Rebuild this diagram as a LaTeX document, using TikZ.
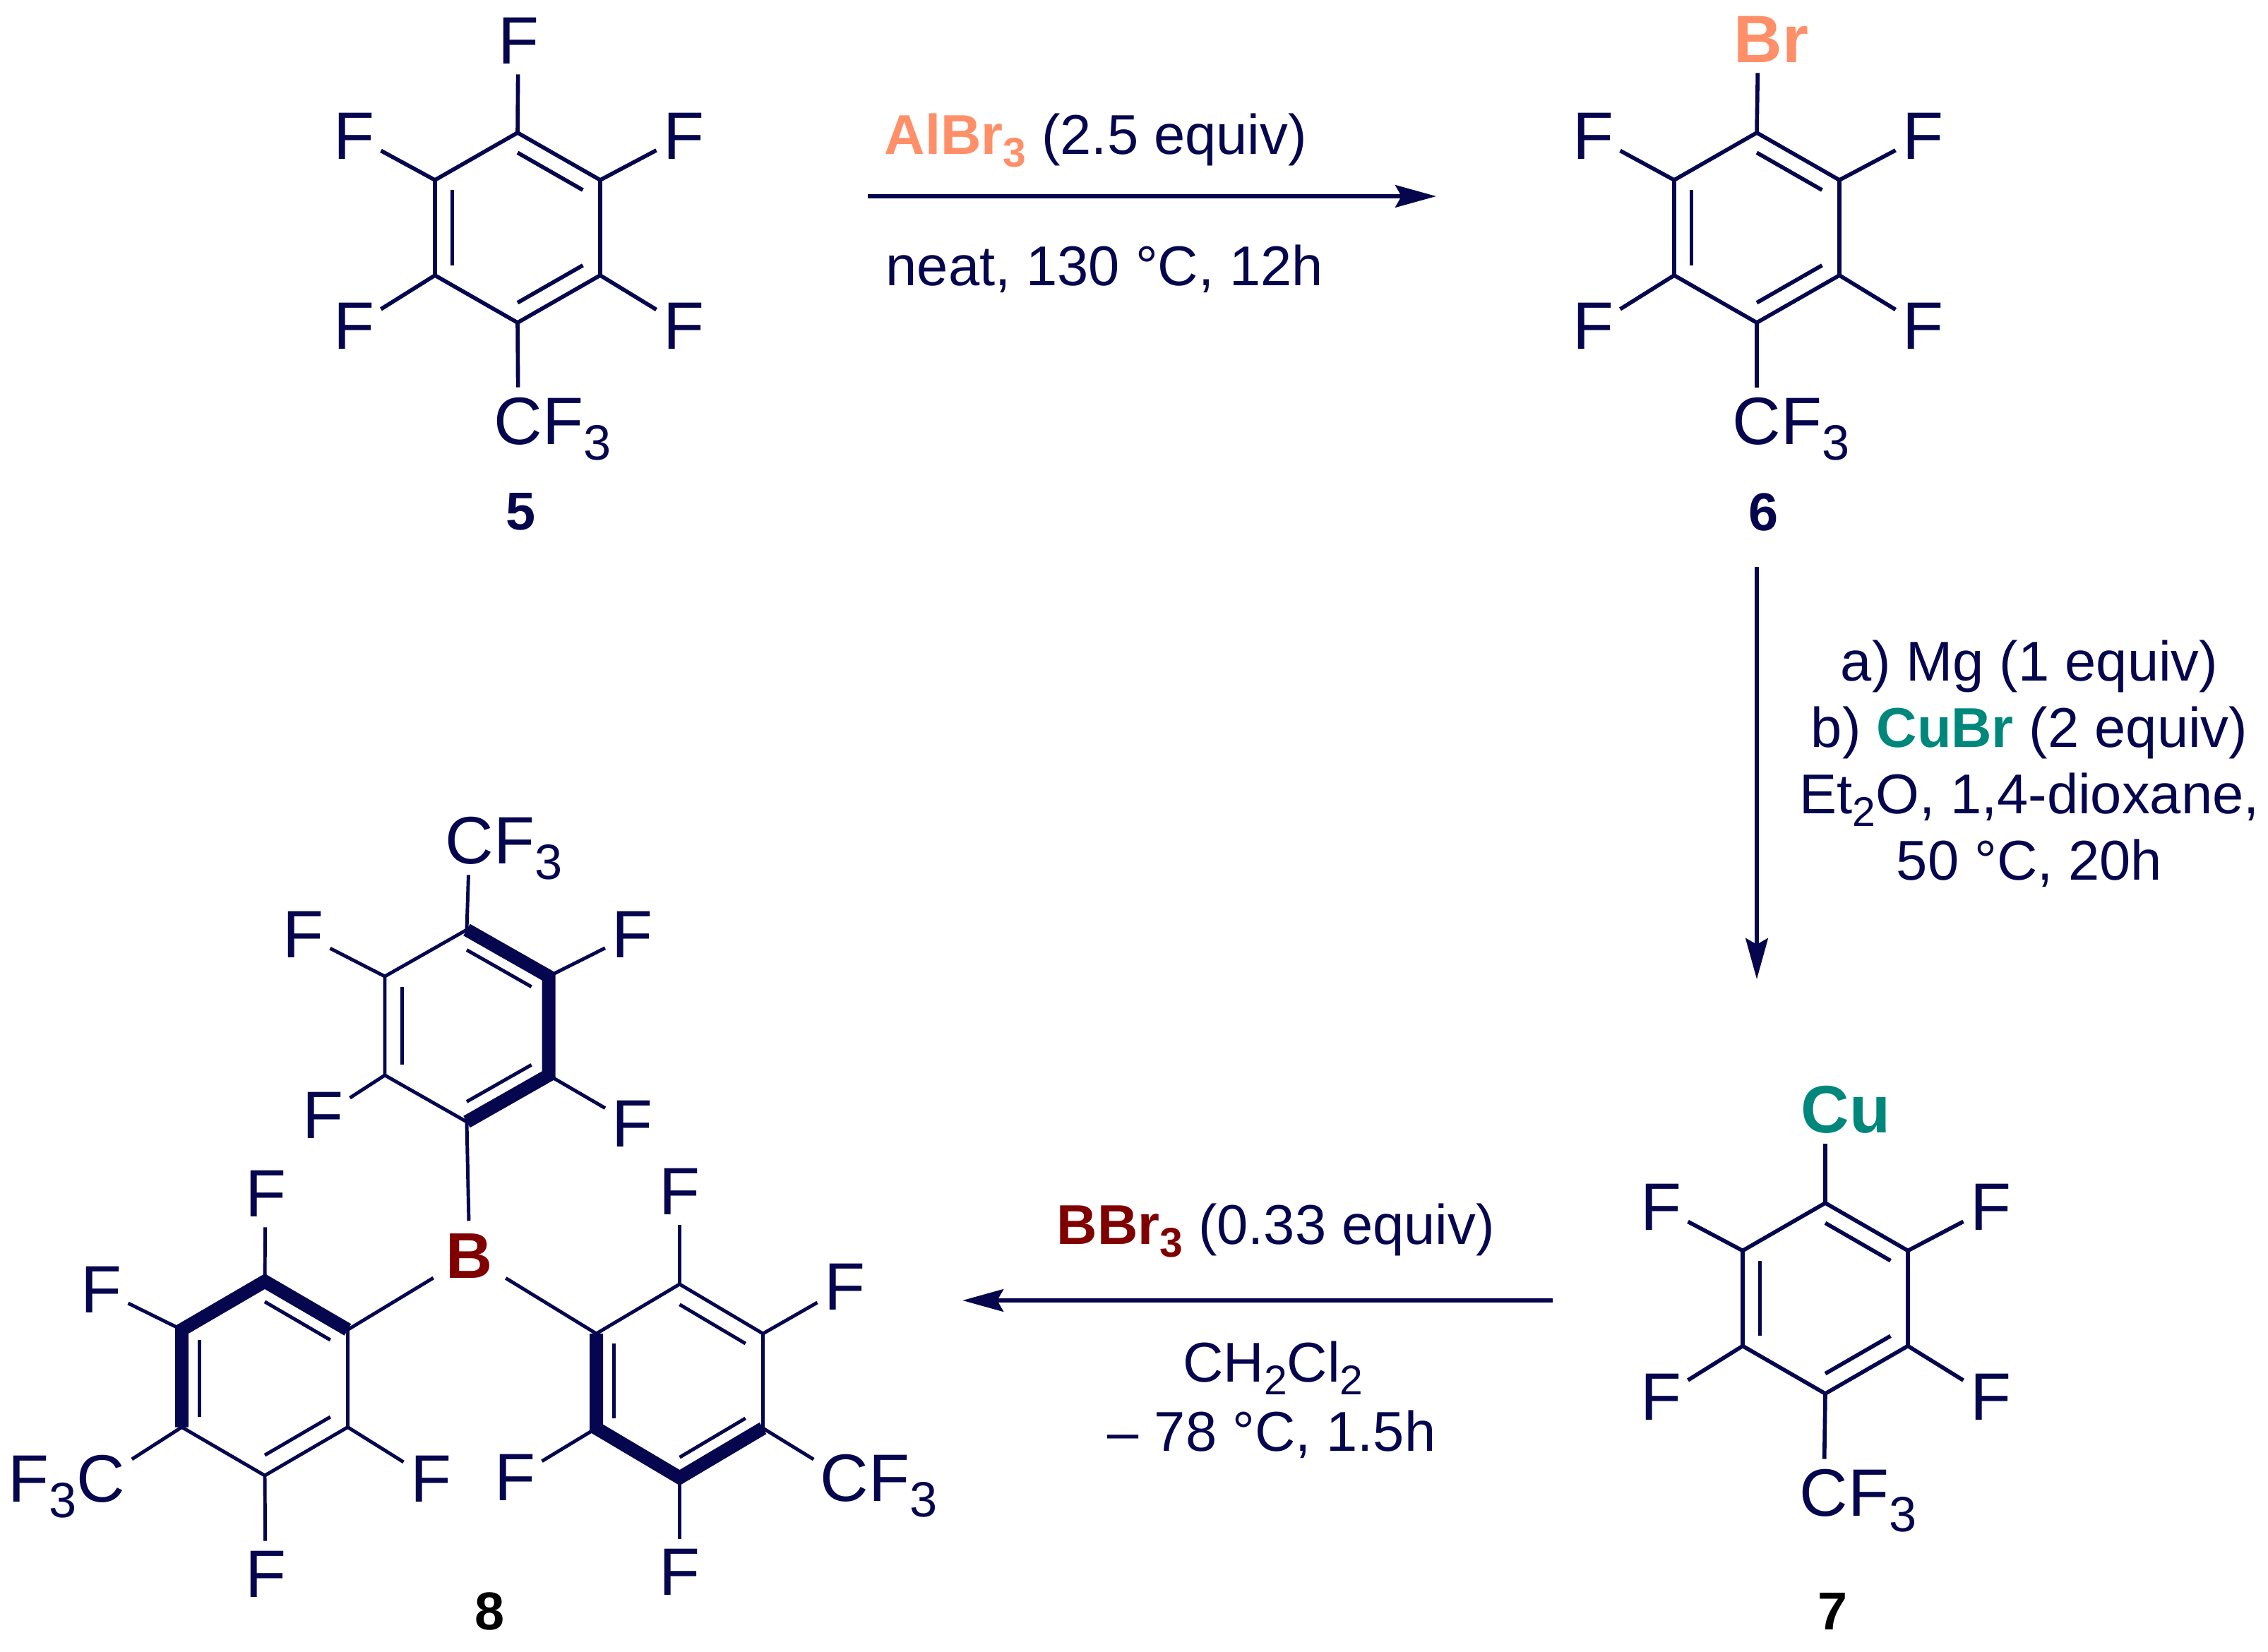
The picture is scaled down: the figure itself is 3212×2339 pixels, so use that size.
\documentclass[tikz,border=0pt]{standalone}
\usepackage{fontspec}
\usepackage{tikz}
\usetikzlibrary{arrows.meta,calc}
\setmainfont{Liberation Sans}
\definecolor{ink}{HTML}{06064E}
\definecolor{brcol}{HTML}{FF8F68}
\definecolor{cucol}{HTML}{00877C}
\definecolor{bcol}{HTML}{800000}

\newcommand{\dn}[1]{\smash{\raisebox{-.23em}{\scalebox{.74}{#1}}}}
% name, cx, cy, half width, half height, half side
\newcommand{\aryl}[6]{%
  \coordinate (#1c) at (#2,#3);
  \coordinate (#1t) at (#2,#3-#5);
  \coordinate (#1ur) at (#2+#4,#3-#6);
  \coordinate (#1lr) at (#2+#4,#3+#6);
  \coordinate (#1b) at (#2,#3+#5);
  \coordinate (#1ll) at (#2-#4,#3+#6);
  \coordinate (#1ul) at (#2-#4,#3-#6);
  \draw[bond] (#1t)--(#1ur)--(#1lr)--(#1b)--(#1ll)--(#1ul)--cycle;
  \draw[bond] ($(#1c)!.79!(#1t)$) -- ($(#1c)!.79!(#1ur)$);
  \draw[bond] ($(#1c)!.79!(#1lr)$) -- ($(#1c)!.79!(#1b)$);
  \draw[bond] ($(#1c)!.79!(#1ll)$) -- ($(#1c)!.79!(#1ul)$);
}

\begin{document}
\begin{tikzpicture}[x=0.01cm,y=-0.01cm,
    bond/.style={draw=ink,line width=1.6pt,line join=round},
    boldbond/.style={draw=ink,line width=5.4pt,line join=miter},
    rxn/.style={draw=ink,line width=1.6pt,-{Stealth[length=16.5pt,width=9pt,inset=2.5pt]}},
    atom/.style={inner xsep=2.5pt,inner ysep=4pt,text=ink,font=\fontsize{27}{27}\selectfont},
    cond/.style={inner sep=0pt,text=ink,font=\fontsize{22.6}{26.7}\selectfont},
    label/.style={inner sep=0pt,font=\fontsize{21.5}{21.5}\selectfont\bfseries}]

  \useasboundingbox (0,0) rectangle (3212,2339);

  % compound 5
  \aryl{five}{733}{322.5}{117}{134.5}{67.5}
  \foreach \v/\f/\x/\y in {fivet/fiveFa/734/58,fiveul/fiveFb/501/192.5,fiveur/fiveFc/968/192.5,
      fivell/fiveFd/501/462,fivelr/fiveFe/968/462}{
    \node[atom] (\f) at (\x,\y) {F};
    \draw[bond] (\v) -- (\f);
  }
  \node[atom] (fiveCF) at (734,597) {C\rlap{F\dn{3}}};
  \draw[bond] (fiveb) -- (fiveCF);
  \node[label,text=ink] (five) at (738,725) {5};

  % compound 6
  \aryl{six}{2488}{322.5}{117}{134.5}{67.5}
  \foreach \v/\f/\x/\y in {sixul/sixFa/2256/192.5,sixur/sixFb/2723/192.5,
      sixll/sixFc/2256/462,sixlr/sixFd/2723/462}{
    \node[atom] (\f) at (\x,\y) {F};
    \draw[bond] (\v) -- (\f);
  }
  \node[atom,text=brcol,font=\fontsize{27}{27}\selectfont\bfseries] (sixBr) at (2490,56) {B\rlap{r}};
  \draw[bond] (sixt) -- (sixBr);
  \node[atom] (sixCF) at (2488,597) {C\rlap{F\dn{3}}};
  \draw[bond] (sixb) -- (sixCF);
  \node[label,text=ink] (six) at (2497,725) {6};

  % compound 7
  \aryl{seven}{2585}{1839}{117}{135}{67.5}
  \foreach \v/\f/\x/\y in {sevenul/sevenFa/2352/1710,sevenur/sevenFb/2819/1710,
      sevenll/sevenFc/2352/1979,sevenlr/sevenFd/2819/1979}{
    \node[atom] (\f) at (\x,\y) {F};
    \draw[bond] (\v) -- (\f);
  }
  \node[atom,text=cucol,font=\fontsize{27}{27}\selectfont\bfseries] (sevenCu) at (2585,1572) {C\rlap{u}};
  \draw[bond] (sevent) -- (sevenCu);
  \node[atom] (sevenCF) at (2583,2115) {C\rlap{F\dn{3}}};
  \draw[bond] (sevenb) -- (sevenCF);
  \node[label,text=black] (seven) at (2595,2282) {7};

  % compound 8
  \begin{scope}[bond/.append style={line width=1.4pt}]
    \aryl{top}{661}{1453}{116}{136}{70}
    \aryl{lft}{375}{1952.5}{117.5}{137.5}{69}
    \aryl{rgt}{962.5}{1956}{118}{137}{67}
    \draw[boldbond] (topt)--(topur)--(toplr)--(topb);
    \draw[boldbond] (lftur)--(lftt)--(lftul)--(lftll);
    \draw[boldbond] (rgtul)--(rgtll)--(rgtb)--(rgtlr);
    \foreach \v/\f/\x/\y in {topul/topFa/429/1323.5,topur/topFb/895.5/1323.5,
        topll/topFc/457/1580,toplr/topFd/895.5/1592,
        lftt/lftFa/376/1691,lftul/lftFb/143/1827,lftlr/lftFc/610/2095,lftb/lftFd/376/2230,
        rgtt/rgtFa/962.5/1688,rgtur/rgtFb/1196/1823,rgtll/rgtFc/729/2093,rgtb/rgtFd/962.5/2227}{
      \node[atom] (\f) at (\x,\y) {F};
      \draw[bond] (\v) -- (\f);
    }
    \node[atom] (topCF) at (665,1191) {C\rlap{F\dn{3}}};
    \node[atom] (lftCF) at (143,2095) {\llap{F\dn{3}}C};
    \node[atom] (rgtCF) at (1196,2094) {C\rlap{F\dn{3}}};
    \node[atom,inner sep=5pt,text=bcol,font=\fontsize{26}{26}\selectfont\bfseries] (boron) at (665,1779) {B};
    \draw[bond] (topt) -- (topCF);
    \draw[bond] (lftll) -- (lftCF);
    \draw[bond] (rgtlr) -- (rgtCF);
    \draw[bond] (topb) -- (boron);
    \draw[bond] (lftur) -- (boron);
    \draw[bond] (rgtul) -- (boron);
  \end{scope}
  \node[label,text=black] (eight) at (694,2282) {8};

  % reaction arrows
  \coordinate (arrowAa) at (1229,278);
  \coordinate (arrowAb) at (2034,278);
  \coordinate (arrowBa) at (2488,803);
  \coordinate (arrowBb) at (2488,1387);
  \coordinate (arrowCa) at (2199,1842);
  \coordinate (arrowCb) at (1363,1842);
  \draw[rxn] (arrowAa) -- (arrowAb);
  \draw[rxn] (arrowBa) -- (arrowBb);
  \draw[rxn] (arrowCa) -- (arrowCb);

  % conditions
  \node[cond,anchor=base west] (condAa) at (1252,218) {\textcolor{brcol}{\bfseries AlBr\dn{3}} (2.5 equiv)};
  \node[cond,anchor=base west] (condAb) at (1254,404) {neat, 130 °C, 12h};
  \node[cond,align=center] (condB) at (2874,1082) {a) Mg (1 equiv)\\b) \textcolor{cucol}{\bfseries CuBr} (2 equiv)\\Et\dn{2}O, 1,4-dioxane,\\50 °C, 20h};
  \node[cond,anchor=base west] (condCa) at (1496,1762) {\textcolor{bcol}{\bfseries BBr\dn{3}} (0.33 equiv)};
  \node[cond,anchor=base] (condCb) at (1803,1957) {CH\dn{2}Cl\dn{2}};
  \node[cond,anchor=base] (condCc) at (1801,2055) {– 78 °C, 1.5h};

\end{tikzpicture}
\end{document}
